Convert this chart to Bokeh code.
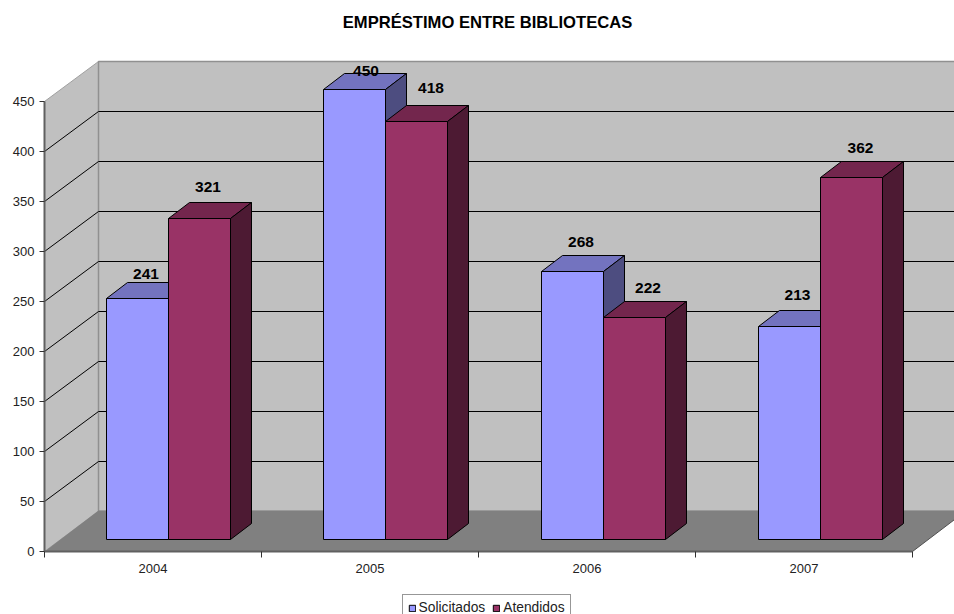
from bokeh.embed import file_html
from bokeh.resources import INLINE
from bokeh.plotting import figure
from bokeh.models import (Range1d, LinearAxis, FixedTicker, Legend, LegendItem,
                          ColumnDataSource)
from bokeh.core.properties import value

# ---- data ----
categories = ["2004", "2005", "2006", "2007"]
solicitados = [241, 450, 268, 213]
atendidos = [321, 418, 222, 362]
y_ticks = [0, 50, 100, 150, 200, 250, 300, 350, 400, 450]
title_text = "EMPRÉSTIMO ENTRE BIBLIOTECAS"
series_names = ["Solicitados", "Atendidos"]

# ---- layout (px) ----
W, H = 954, 614
X0_PX, Y0_PX = 44, 551
PX_X = 217.0

WALL_DX, WALL_DY = 54 / PX_X, 40      # depth of the floor
FLOOR_DY = 41
BAR_SHIFT_X, BAR_SHIFT_Y = 15.5 / PX_X, 12  # front plane of bars
BAR_DX, BAR_DY = 21 / PX_X, 16          # depth of a bar
BAR_W = 62.0 / PX_X
BAR_NUDGE = [0, 0, 1 / PX_X, 1 / PX_X]

WALL, FLOOR = "#C0C0C0", "#808080"
COLS = [("#9999FF", "#7373BF", "#4D4D80"), ("#993366", "#73264D", "#4D1A33")]
# label position tweaks from the bar's top centre (px)
NUDGE_X = [[8.5, 11.5, 8.5, 8], [8.5, 14.5, 13.5, 9]]
BASE_Y = [[-8.5, -2.5, -13.5, -15.5], [-15.5, -17.5, -13.5, -13.5]]

p = figure(width=W, height=H, output_backend="svg", toolbar_location=None,
           x_range=Range1d(-X0_PX / PX_X, (W - X0_PX) / PX_X),
           y_range=Range1d(Y0_PX - H, Y0_PX),
           x_axis_type=None, y_axis_type=None,
           min_border_left=0, min_border_right=0, min_border_top=0, min_border_bottom=0)
p.outline_line_color = None
p.grid.visible = False
p.background_fill_color = "white"
p.styles = {"position": "absolute", "left": "0px", "top": "0px"}

nc = len(categories)
top450 = y_ticks[-1]
# walls and floor
p.patch([0, WALL_DX, WALL_DX, 0], [0, WALL_DY, WALL_DY + top450, top450],
        fill_color=WALL, line_color="#A0A0A0", line_width=1)
p.patch([WALL_DX, nc + WALL_DX, nc + WALL_DX, WALL_DX],
        [WALL_DY, WALL_DY, WALL_DY + top450, WALL_DY + top450],
        fill_color=WALL, line_color="#909090", line_width=1.5)
p.patch([0, WALL_DX, nc + WALL_DX, nc], [0, FLOOR_DY, FLOOR_DY, 0],
        fill_color=FLOOR, line_color=None)
# gridlines
gv = y_ticks[1:-1]
p.multi_line([[0, WALL_DX, nc + WALL_DX] for _ in gv],
             [[v, v + WALL_DY, v + WALL_DY] for v in gv],
             line_color="#000000", line_width=1)
p.line([0, nc], [0, 0], line_color="#606060", line_width=2)
p.line([nc, nc + WALL_DX], [0, FLOOR_DY], line_color="#505050", line_width=1)

# bars
fronts = []
for s, vals in enumerate([solicitados, atendidos]):
    front, top, side = COLS[s]
    lefts = [i + 0.5 + BAR_SHIFT_X + BAR_NUDGE[i] + (s - 1) * BAR_W for i in range(nc)]
    xs_top, ys_top, xs_side, ys_side = [], [], [], []
    for l, v in zip(lefts, vals):
        r = l + BAR_W
        yt = BAR_SHIFT_Y + v
        xs_top.append([l, l + BAR_DX, r + BAR_DX, r])
        ys_top.append([yt, yt + BAR_DY, yt + BAR_DY, yt])
        xs_side.append([r, r + BAR_DX, r + BAR_DX, r])
        ys_side.append([BAR_SHIFT_Y, BAR_SHIFT_Y + BAR_DY, yt + BAR_DY, yt])
    p.patches(xs_top, ys_top, fill_color=top, line_color="#000000", line_width=1)
    p.patches(xs_side, ys_side, fill_color=side, line_color="#000000", line_width=1)
    fr = p.quad(left=lefts, right=[l + BAR_W for l in lefts], bottom=BAR_SHIFT_Y,
                top=[BAR_SHIFT_Y + v for v in vals],
                fill_color=front, line_color="#000000", line_width=1)
    fronts.append(fr)

# value labels
for s, vals in enumerate([solicitados, atendidos]):
    src = ColumnDataSource(dict(
        x=[i + 0.5 + BAR_SHIFT_X + BAR_NUDGE[i] + (s - 0.5) * BAR_W + NUDGE_X[s][i] / PX_X for i in range(nc)],
        y=[BAR_SHIFT_Y + v + BAR_DY - BASE_Y[s][i] for i, v in enumerate(vals)],
        t=[str(v) for v in vals]))
    p.text("x", "y", text="t", source=src, text_font=value("Liberation Sans"),
           text_font_size="15.5px", text_font_style="bold", text_color="#000000",
           text_align="center", text_baseline="alphabetic")

# title (the frame fills the page, so it sits in data space)
p.text([(487 - X0_PX) / PX_X], [Y0_PX - 22], text=[title_text],
       text_font=value("Liberation Sans"), text_font_size="16.6px", text_font_style="bold",
       text_color="#000000", text_align="center", text_baseline="middle")

# axes
yax = LinearAxis(ticker=FixedTicker(ticks=y_ticks), bounds=(0, top450), fixed_location=0)
yax.axis_line_color = "#606060"
yax.axis_line_width = 2
yax.major_tick_line_color = "#303030"
yax.major_tick_out = 5
yax.major_tick_in = 0
yax.minor_tick_line_color = None
yax.major_label_text_font = "Liberation Sans"
yax.major_label_text_font_size = "13px"
yax.major_label_text_color = "#222222"
yax.major_label_standoff = 5
p.add_layout(yax, "left")

centres = [i + 0.5 for i in range(nc)]
xax = LinearAxis(ticker=FixedTicker(ticks=centres, minor_ticks=list(range(nc + 1))),
                 bounds=(0, nc), fixed_location=0)
xax.major_label_overrides = {c: t for c, t in zip(centres, categories)}
xax.axis_line_color = None
xax.major_tick_line_color = None
xax.minor_tick_line_color = "#303030"
xax.minor_tick_out = 6
xax.minor_tick_in = 0
xax.major_tick_out = 0
xax.major_tick_in = 0
xax.major_label_text_font = "Liberation Sans"
xax.major_label_text_font_size = "13px"
xax.major_label_text_color = "#222222"
xax.major_label_standoff = 6
p.add_layout(xax, "below")

legend = Legend(items=[LegendItem(label=n, renderers=[r]) for n, r in zip(series_names, fronts)],
                orientation="horizontal", location=(401.5, -7),
                glyph_width=8, glyph_height=8, label_standoff=3, spacing=7,
                padding=5, margin=0,
                label_text_font="Liberation Sans", label_text_font_size="13.8px",
                label_text_color="#222222",
                border_line_color="#303030", border_line_width=1,
                background_fill_color="white", background_fill_alpha=1)
p.add_layout(legend, "center")

open("out.html", "w").write(file_html(p, INLINE))
